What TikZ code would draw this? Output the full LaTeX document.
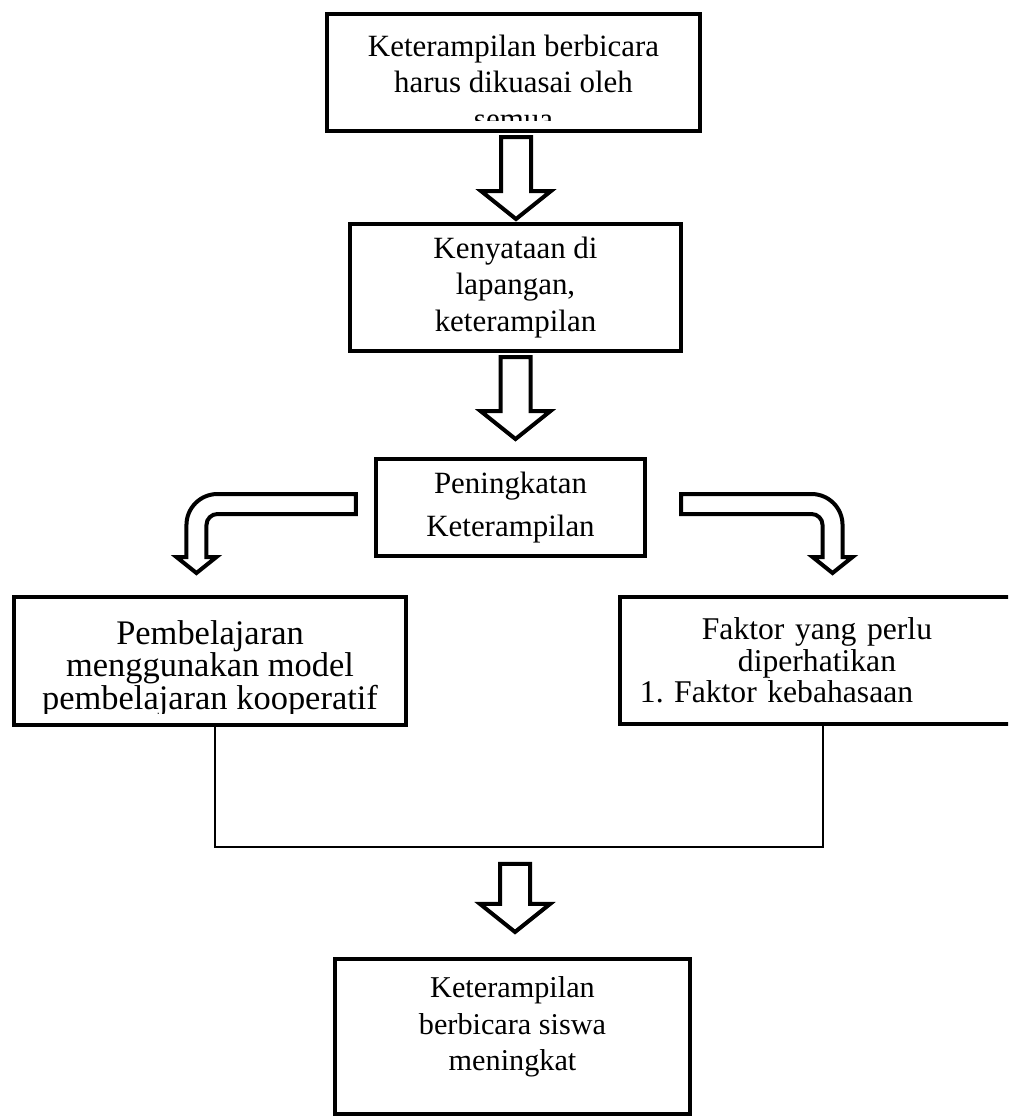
\documentclass[tikz,border=0pt]{standalone}
\usepackage{fontspec}
\setmainfont{Liberation Serif}
\usetikzlibrary{calc}

% panah blok lurus ke bawah: #1 titik awal (kiri atas batang), #2 panjang batang
\newcommand{\panahturun}[2]{\draw[panah] #1 -- ++(0,#2) -- ++(-20,0) -- ++(35,28) -- ++(35,-28) -- ++(-20,0) -- ++(0,-#2) -- cycle;}

\begin{document}
\begin{tikzpicture}
	[x=0.025cm, y=-0.025cm,
	kotak/.style	={rectangle, draw=black, fill=white, line width=0.1cm, inner sep=0pt},
	teks/.style		={align=center, font=\fontsize{22}{26}\selectfont},
	panah/.style	={draw=black, fill=white, line width=0.1cm, line join=miter},
	garis/.style	={draw=black, line width=0.04cm}]
	\useasboundingbox (0,0) rectangle (1008,1118);
	\clip (0,0) rectangle (1008,1118);

	% kotak-kotak
	\node[kotak, minimum width=9.325cm, minimum height=2.925cm,
		path picture={\clip (path picture bounding box.north west) rectangle ([yshift=0.275cm]path picture bounding box.south east);
			\node[teks] at ([yshift=-0.24cm]path picture bounding box.center) {Keterampilan berbicara\\harus dikuasai oleh\\semua};}]
		(ktr) at (513.5,72.5) {};
	\node[kotak, teks, minimum width=8.275cm, minimum height=3.175cm] (kny) at (515.5,287.5) {Kenyataan di\\lapangan,\\keterampilan};
	\node[kotak, teks, minimum width=6.725cm, minimum height=2.425cm, font=\fontsize{22}{30}\selectfont] (pkt) at (510.5,507.5) {Peningkatan\\Keterampilan};
	\node[kotak, minimum width=9.8cm, minimum height=3.2cm,
		path picture={\clip (path picture bounding box.north west) rectangle ([yshift=0.3cm]path picture bounding box.south east);
			\node[teks, font=\fontsize{24.5}{22.5}\selectfont] at ([yshift=-0.2cm]path picture bounding box.center) {Pembelajaran\\menggunakan model\\pembelajaran kooperatif};}]
		(pmb) at (210,661) {};
	\node[kotak, teks, minimum width=9.85cm, minimum height=3.175cm, text width=9.35cm, font=\fontsize{22.5}{22.5}\selectfont]
		(fkt) at (817,660.5) {Faktor yang perlu\\diperhatikan\\\makebox[\linewidth][l]{\hspace{0.25cm}1.\ Faktor kebahasaan}};
	\node[kotak, minimum width=8.875cm, minimum height=3.875cm,
		path picture={\node[teks, font=\fontsize{21.5}{26}\selectfont] at ([yshift=0.24cm]path picture bounding box.center) {Keterampilan\\berbicara siswa\\meningkat};}]
		(hsl) at (512.5,1036.5) {};

	% panah
	\panahturun{($(ktr.south)+(-12.5,4)$)}{54}
	\panahturun{($(kny.south)+(-15,4)$)}{54}
	\draw[panah] ($(pkt.west)+(-18,-13.5)$) -- ++(-138.5,0) arc[start angle=90, end angle=180, radius=0.775cm]
		-- ++(0,32) -- ++(-10,0) -- ++(20,16) -- ++(20,-16) -- ++(-10,0) -- ++(0,-32)
		arc[start angle=180, end angle=90, radius=0.275cm] -- ++(138.5,0) -- cycle;
	\draw[panah] ($(pkt.east)+(34,-13.5)$) -- ++(130.5,0) arc[start angle=90, end angle=0, radius=0.775cm]
		-- ++(0,32) -- ++(10,0) -- ++(-20,16) -- ++(-20,-16) -- ++(10,0) -- ++(0,-32)
		arc[start angle=0, end angle=90, radius=0.275cm] -- ++(-130.5,0) -- cycle;
	\draw[garis] ($(pmb.south)+(5,0)$) |- ($(fkt.south)+(6,121)$) -- ($(fkt.south)+(6,0)$);
	\panahturun{($(hsl.north)+(-12.5,-93)$)}{40}
\end{tikzpicture}
\end{document}
